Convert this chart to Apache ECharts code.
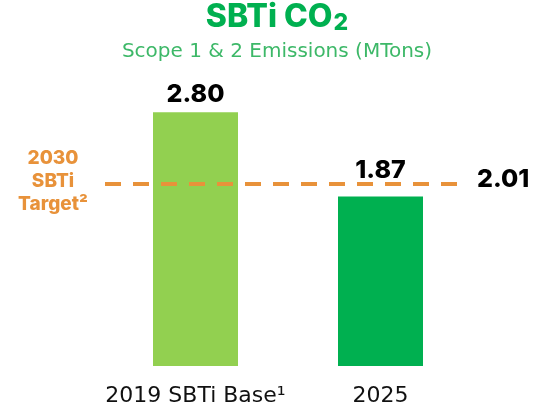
<!DOCTYPE html>
<html>
<head>
<meta charset="utf-8">
<script src="https://cdn.jsdelivr.net/npm/echarts@6/dist/echarts.min.js"></script>
<style>html,body{margin:0;padding:0;background:#fff}#c{width:539px;height:411px}</style>
</head>
<body>
<div id="c"></div>
<script>
const categories = ['2019 SBTi Base¹', '2025'];
const emissions = [2.80, 1.87];
const barColors = ['#92D050', '#00B050'];
const target2030 = 2.01;
const targetLabel = '2030\nSBTi\nTarget²';

const FONT = 'DejaVu Sans';
const BOLD = 'Inter';
const chart = echarts.init(document.getElementById('c'));
chart.setOption({
  animation: false,
  title: [
    {
      text: 'SBTi CO{sub|2}',
      subtext: 'Scope 1 & 2 Emissions (MTons)',
      left: 277,
      textAlign: 'center',
      top: 0,
      itemGap: 8,
      padding: 0,
      textStyle: {
        fontFamily: BOLD, fontSize: 32, fontWeight: 800, color: '#00B050',
        rich: { sub: { fontFamily: BOLD, fontSize: 23, fontWeight: 800, color: '#00B050', verticalAlign: 'bottom', padding: [12, 0, 0, 1] } }
      },
      subtextStyle: { fontFamily: FONT, fontSize: 20, color: '#3DB868' }
    },
    {
      text: targetLabel,
      left: 53,
      top: 147,
      textAlign: 'center',
      padding: 0,
      textStyle: { fontFamily: BOLD, fontSize: 19, fontWeight: 800, color: '#E8923A', lineHeight: 23 }
    }
  ],
  grid: [
    { left: 103, width: 370, top: 94, height: 272 },
    { left: 105, width: 352, top: 94, height: 272 }
  ],
  xAxis: [
    {
      type: 'category', gridIndex: 0, data: categories,
      axisLine: { show: false }, axisTick: { show: false },
      axisLabel: { interval: 0, fontFamily: FONT, fontSize: 22, color: '#111', margin: 19 }
    },
    { type: 'category', gridIndex: 1, data: [''], show: false }
  ],
  yAxis: [
    { type: 'value', gridIndex: 0, min: 0, max: 3, show: false },
    { type: 'value', gridIndex: 1, min: 0, max: 3, show: false }
  ],
  series: [
    {
      type: 'bar', xAxisIndex: 0, yAxisIndex: 0, barWidth: 85,
      data: emissions.map((v, i) => ({
        value: v,
        itemStyle: { color: barColors[i] },
        label: { distance: i === 0 ? 5 : 13 }
      })),
      label: {
        show: true, position: 'top',
        formatter: p => p.value.toFixed(2),
        fontFamily: BOLD, fontSize: 25, fontWeight: 800, color: '#000'
      },
      z: 2
    },
    {
      type: 'line', xAxisIndex: 1, yAxisIndex: 1, data: [],
      markLine: {
        silent: true, symbol: ['none', 'none'],
        lineStyle: { type: [16, 12], width: 4, color: '#E8923A' },
        label: {
          show: true, position: 'end', distance: 20, offset: [0, -4],
          formatter: p => p.value.toFixed(2),
          fontFamily: BOLD, fontSize: 25, fontWeight: 800, color: '#000'
        },
        data: [{ yAxis: target2030 }]
      },
      z: 3
    }
  ]
});
</script>
</body>
</html>
